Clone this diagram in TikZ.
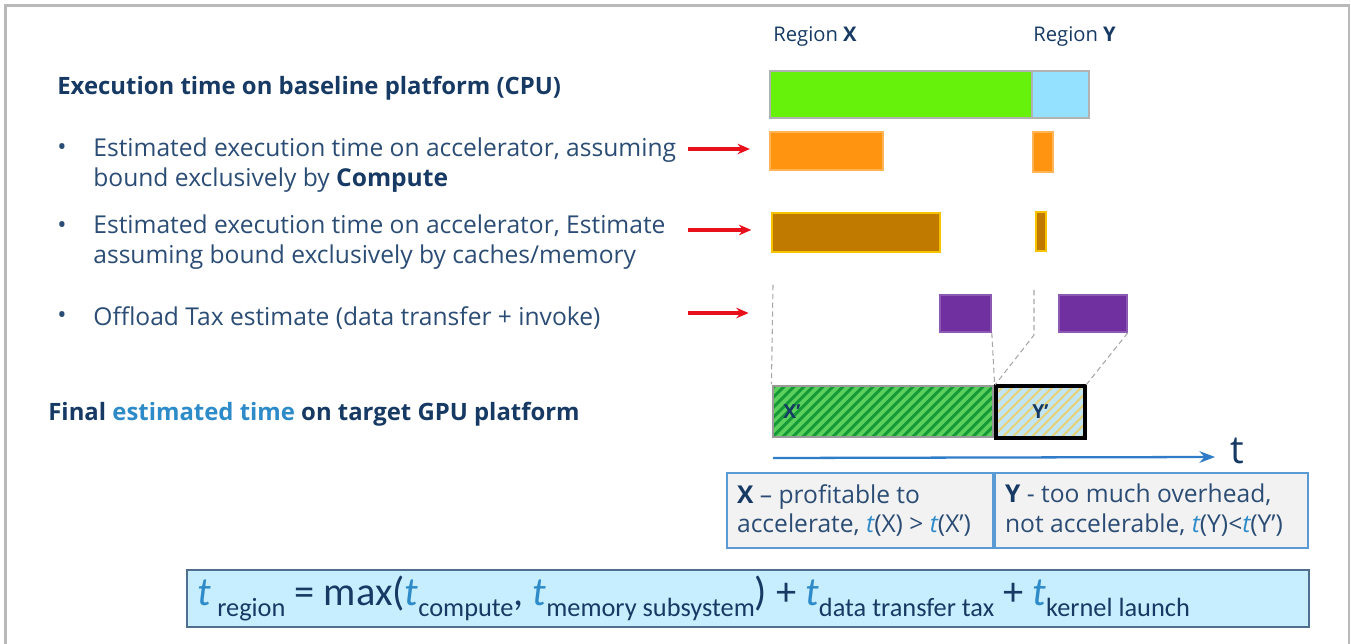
\documentclass[tikz,border=0pt]{standalone}
\usepackage{fontspec}
\setmainfont{Open Sans}
\newfontfamily\formulafont{Carlito}
\usetikzlibrary{positioning, arrows.meta, fit, patterns.meta}

\definecolor{navy}{HTML}{173A64}
\definecolor{bodyblue}{HTML}{2B4C74}
\definecolor{tblue}{HTML}{2E8BC9}
\definecolor{cpugreen}{HTML}{66F20A}
\definecolor{cpublue}{HTML}{93E0FF}
\definecolor{cmporange}{HTML}{FF9410}
\definecolor{memgold}{HTML}{C07A00}
\definecolor{memedge}{HTML}{F7C200}
\definecolor{taxpurple}{HTML}{7030A0}
\definecolor{arrowred}{HTML}{E8101A}
\definecolor{hatchlight}{HTML}{5CD05C}
\definecolor{hatchdark}{HTML}{169A38}
\definecolor{hatchsky}{HTML}{C3E5F2}
\definecolor{hatchyellow}{HTML}{E6D275}
\definecolor{boxblue}{HTML}{5B9BD5}
\definecolor{boxgray}{HTML}{F2F2F2}
\definecolor{formulafill}{HTML}{C7EEFF}
\definecolor{formulaedge}{HTML}{4F6F8F}
\definecolor{lineblue}{HTML}{2F7DC8}

\begin{document}
\begin{tikzpicture}[
        x=0.02cm, y=-0.02cm,
        >=Stealth,
        headtext/.style={anchor=west, inner sep=0pt, text=navy, font=\bfseries\fontsize{13.6}{17}\selectfont},
        bodytext/.style={anchor=west, inner sep=0pt, align=left, text=bodyblue, font=\fontsize{14}{17}\selectfont},
        bulletmark/.style={inner sep=0pt, text=bodyblue, font=\fontsize{14}{14}\selectfont},
        regiontext/.style={anchor=west, inner sep=0pt, text=navy, font=\fontsize{11.5}{14}\selectfont},
        bar/.style={inner sep=0pt, line width=0.9pt},
        hatched/.style={inner sep=0pt, line width=1pt, preaction={fill=#1}},
        redarrow/.style={-{Stealth[length=7pt, width=6pt]}, line width=1.8pt, draw=arrowred, shorten >=11pt},
        guide/.style={densely dashed, draw=gray!70, line width=0.6pt},
        infobox/.style={draw=boxblue, fill=boxgray, line width=0.9pt, inner sep=0pt},
    ]
    \useasboundingbox (0,0) rectangle (1351,644);

    % outer frame
    \draw[gray!55, line width=1.2pt] (5.5,650) -- (5.5,5.5) -- (1349,5.5) -- (1349,650);

    % left hand texts
    \node[headtext] (cpu) at (57,88) {Execution time on baseline platform (CPU)};

    \node[bulletmark] (b1) at (62,150) {\textbullet};
    \node[bodytext] (cmp) at (93,165) {Estimated execution time on accelerator, assuming\\bound exclusively by \textbf{\color{navy}Compute}};
    \node[bulletmark] (b2) at (62,228) {\textbullet};
    \node[bodytext] (mem) at (93,242) {Estimated execution time on accelerator, Estimate\\assuming bound exclusively by caches/memory};
    \node[bulletmark] (b3) at (62,318) {\textbullet};
    \node[bodytext] (tax) at (93,318) {Offload Tax estimate (data transfer + invoke)};

    \node[headtext] (gpu) at (48,414) {Final {\color{tblue}estimated time} on target GPU platform};

    % region headers
    \node[regiontext] (rX) at (773,37) {Region \textbf{X}};
    \node[regiontext] (rY) at (1033,37) {Region \textbf{Y}};

    % baseline bars
    \node[bar, draw=gray!60, fill=cpugreen, fit={(770,71) (1032,118)}] (cpuX) {};
    \node[bar, draw=gray!60, fill=cpublue, fit={(1032,71) (1089,118)}] (cpuY) {};

    % compute bound bars
    \node[bar, draw=cmporange!70!white, fill=cmporange, fit={(770,132) (883,170)}] (cmpX) {};
    \node[bar, draw=cmporange!70!white, fill=cmporange, fit={(1033,132) (1053,172)}] (cmpY) {};

    % memory bound bars
    \node[bar, draw=memedge, line width=1.6pt, fill=memgold, fit={(772,213) (940,252)}] (memX) {};
    \node[bar, draw=memedge, line width=1.6pt, fill=memgold, fit={(1036,212) (1046,251)}] (memY) {};

    % offload tax bars
    \node[bar, draw=taxpurple!80!white, fill=taxpurple, fit={(940,295) (991,332)}] (taxX) {};
    \node[bar, draw=taxpurple!80!white, fill=taxpurple, fit={(1059,295) (1127,332)}] (taxY) {};

    % final estimate bars
    \node[hatched=hatchlight, draw=gray!80,
        pattern={Lines[angle=45, distance=4pt, line width=1.8pt]}, pattern color=hatchdark,
        fit={(773,386) (993,437)}] (xp) {};
    \node[hatched=hatchsky, draw=black, line width=1.8pt,
        pattern={Lines[angle=45, distance=4pt, line width=1.2pt]}, pattern color=hatchyellow,
        fit={(996,386) (1085,438)}] (yp) {};
    \node[text=navy, font=\bfseries\fontsize{11}{11}\selectfont] at (792,412) {X'};
    \node[text=navy, font=\bfseries\fontsize{11}{11}\selectfont] at (yp.center) {Y'};

    % dashed guides
    \coordinate (gX) at (773,285);
    \coordinate (gY) at (1034,290);
    \coordinate (kY) at (1034,335);
    \draw[guide] (gX) -- (xp.north west);
    \draw[guide] (taxX.south east) -- (xp.north east);
    \draw[guide] (gY) -- (kY) -- (yp.north west);
    \draw[guide] (taxY.south east) -- (yp.north east);

    % red pointers
    \coordinate (a1) at (688,149);
    \coordinate (a2) at (688,230);
    \coordinate (a3) at (688,313);
    \draw[redarrow] (a1) -- (a1 -| cmpX.west);
    \draw[redarrow] (a2) -- (a2 -| memX.west);
    \draw[redarrow, shorten >=13pt] (a3) -- (a3 -| xp.west);

    % time axis
    \coordinate (t0) at (773,458);
    \coordinate (t1) at (1215,457);
    \draw[->, lineblue, line width=1.3pt] (t0) -- (t1);
    \node[text=navy, font=\fontsize{22}{22}\selectfont, anchor=west] (tlab) at (1224,451) {t};

    % verdict boxes
    \node[infobox, fit={(727,473) (993,548)}] (boxX) {};
    \node[infobox, fit={(995,473) (1308,548)}] (boxY) {};
    \node[bodytext, right=6pt of boxX.west] (txtX) {\textbf{\color{navy}X} -- profitable to\\accelerate, {\color{tblue}\itshape t}(X) > {\color{tblue}\itshape t}(X')};
    \node[bodytext, right=6pt of boxY.west] (txtY) {\textbf{\color{navy}Y} - too much overhead,\\not accelerable, {\color{tblue}\itshape t}(Y)<{\color{tblue}\itshape t}(Y')};

    % cost model
    \node[draw=formulaedge, fill=formulafill, line width=1pt, inner sep=0pt, fit={(187,570) (1309,627)}] (model) {};
    \node[anchor=west, inner sep=0pt, text=navy, right=6pt of model.west, font=\formulafont\fontsize{23}{23}\selectfont] (eq)
        {{\color{tblue}\itshape t}\,\raisebox{-6pt}{\fontsize{15}{15}\selectfont region} = max({\color{tblue}\itshape t}\raisebox{-6pt}{\fontsize{15}{15}\selectfont compute}, {\color{tblue}\itshape t}\raisebox{-6pt}{\fontsize{15}{15}\selectfont memory subsystem}) + {\color{tblue}\itshape t}\raisebox{-6pt}{\fontsize{15}{15}\selectfont data transfer tax} + {\color{tblue}\itshape t}\raisebox{-6pt}{\fontsize{15}{15}\selectfont kernel launch}};
\end{tikzpicture}
\end{document}
